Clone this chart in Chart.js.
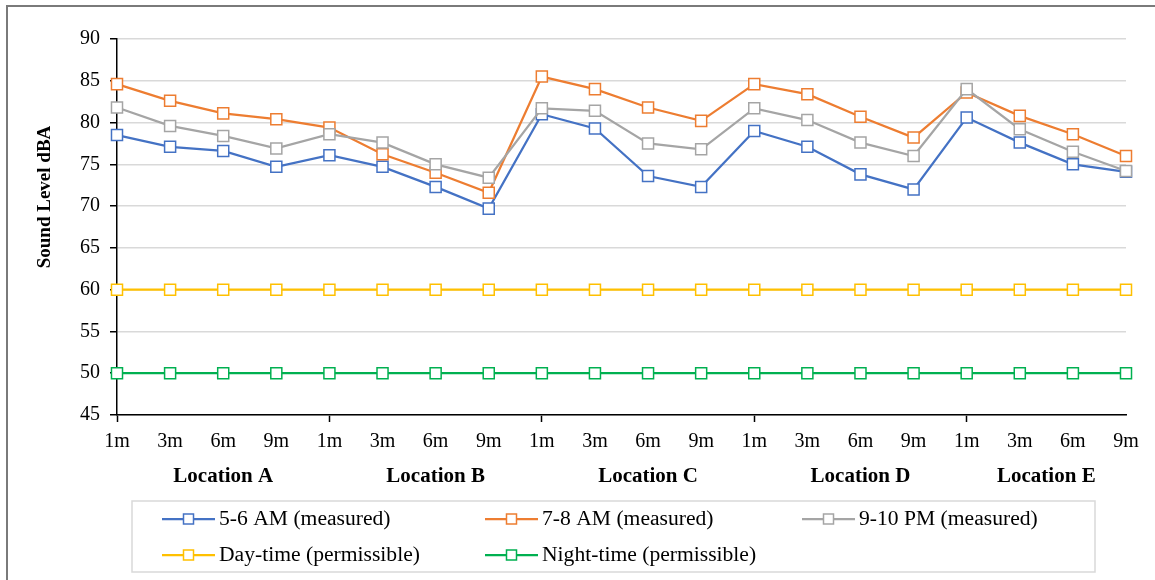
<!DOCTYPE html>
<html>
<head>
<meta charset="utf-8">
<script src="https://cdn.jsdelivr.net/npm/chart.js@4.4.1/dist/chart.umd.min.js"></script>
<style>
  html, body { margin: 0; padding: 0; background: #fff; }
  #wrap { position: relative; width: 1155px; height: 580px; }
</style>
</head>
<body>
<div id="wrap"><canvas id="c" width="1155" height="580"></canvas></div>
<script>
// Distance from the road at each measuring point, repeated per location
const distances = ['1m', '3m', '6m', '9m', '1m', '3m', '6m', '9m', '1m', '3m', '6m', '9m',
                   '1m', '3m', '6m', '9m', '1m', '3m', '6m', '9m'];
const locations = ['Location A', 'Location B', 'Location C', 'Location D', 'Location E'];

// Sound levels (dBA)
const earlyMorning = [78.5, 77.1, 76.6, 74.7, 76.1, 74.7, 72.3, 69.7, 81.0, 79.3,
                      73.6, 72.3, 79.0, 77.1, 73.8, 72.0, 80.6, 77.6, 75.0, 74.1];
const morningPeak  = [84.6, 82.6, 81.1, 80.4, 79.4, 76.2, 74.0, 71.6, 85.5, 84.0,
                      81.8, 80.2, 84.6, 83.4, 80.7, 78.2, 83.6, 80.8, 78.6, 76.0];
const evening      = [81.8, 79.6, 78.4, 76.9, 78.6, 77.6, 75.0, 73.4, 81.7, 81.4,
                      77.5, 76.8, 81.7, 80.3, 77.6, 76.0, 84.0, 79.2, 76.5, 74.2];
const dayLimit     = [60, 60, 60, 60, 60, 60, 60, 60, 60, 60,
                      60, 60, 60, 60, 60, 60, 60, 60, 60, 60];
const nightLimit   = [50, 50, 50, 50, 50, 50, 50, 50, 50, 50,
                      50, 50, 50, 50, 50, 50, 50, 50, 50, 50];

const seriesNames = ['5-6 AM (measured)', '7-8 AM (measured)', '9-10 PM (measured)',
                     'Day-time (permissible)', 'Night-time (permissible)'];
const seriesColors = ['#4472C4', '#ED7D31', '#A5A5A5', '#FFC000', '#00B050'];
const seriesValues = [earlyMorning, morningPeak, evening, dayLimit, nightLimit];

const yTicks = { min: 45, max: 90, step: 5 };
const yTitle = 'Sound Level dBA';

const FONT = '"Liberation Serif", "Times New Roman", serif';
const GROUP = 4;

function drawMarker(ctx, x, y, color) {
  const s = 10;
  ctx.fillStyle = '#fff';
  ctx.fillRect(x - s / 2, y - s / 2, s, s);
  ctx.strokeStyle = color;
  ctx.lineWidth = 1.5;
  ctx.strokeRect(x - s / 2, y - s / 2, s, s);
}

// text drawn slightly wider than the font's natural width
function wideText(ctx, text, x, y, stretch) {
  ctx.save();
  ctx.translate(x, y);
  ctx.scale(stretch, 1);
  ctx.fillText(text, 0, 0);
  ctx.restore();
}

const decorations = {
  id: 'decorations',
  beforeDraw(chart) {
    const ctx = chart.ctx;
    ctx.save();
    ctx.fillStyle = '#fff';
    ctx.fillRect(0, 0, chart.width, chart.height);
    ctx.restore();
  },
  afterDraw(chart) {
    const ctx = chart.ctx;
    const xs = chart.scales.x;
    const area = chart.chartArea;
    ctx.save();

    // frame around the figure (top and left edges)
    ctx.strokeStyle = '#7a7a7a';
    ctx.lineWidth = 2;
    ctx.beginPath();
    ctx.moveTo(7, chart.height);
    ctx.lineTo(7, 6);
    ctx.lineTo(chart.width, 6);
    ctx.stroke();

    // vertical axis title
    ctx.fillStyle = '#000';
    ctx.font = 'bold 19px ' + FONT;
    ctx.textAlign = 'center';
    ctx.textBaseline = 'middle';
    ctx.save();
    ctx.translate(45, 197);
    ctx.rotate(-Math.PI / 2);
    ctx.fillText(yTitle, 0, 0);
    ctx.restore();

    // location labels under each group of distances
    ctx.font = 'bold 20px ' + FONT;
    locations.forEach((name, g) => {
      const left = xs.getPixelForValue(g * GROUP);
      const right = Math.min(xs.getPixelForValue((g + 1) * GROUP), area.right);
      wideText(ctx, name, (left + right) / 2, 477, 1.05);
    });

    // legend
    ctx.strokeStyle = '#d9d9d9';
    ctx.lineWidth = 1.5;
    ctx.strokeRect(132, 501, 963, 71);
    const cols = [162, 485, 802];
    const rows = [519, 555];
    ctx.font = '20px ' + FONT;
    ctx.textAlign = 'left';
    chart.data.datasets.forEach((ds, i) => {
      const x = cols[i % 3];
      const y = rows[Math.floor(i / 3)];
      ctx.strokeStyle = ds.borderColor;
      ctx.lineWidth = 2.25;
      ctx.beginPath();
      ctx.moveTo(x, y);
      ctx.lineTo(x + 53, y);
      ctx.stroke();
      drawMarker(ctx, x + 26.5, y, ds.borderColor);
      ctx.fillStyle = '#000';
      wideText(ctx, ds.label, x + 57, y + 1, 1.08);
    });
    ctx.restore();
  }
};

const datasets = seriesNames.map((name, i) => ({
  label: name,
  data: seriesValues[i],
  borderColor: seriesColors[i],
  backgroundColor: '#fff',
  borderWidth: 2.25,
  pointStyle: 'rect',
  pointRadius: 7.8,
  pointHoverRadius: 7.8,
  pointBorderWidth: 1.5,
  pointBackgroundColor: '#fff',
  pointBorderColor: seriesColors[i],
  tension: 0,
  fill: false,
  order: seriesNames.length - i
}));

new Chart(document.getElementById('c'), {
  type: 'line',
  data: { labels: distances, datasets },
  options: {
    responsive: false,
    animation: false,
    devicePixelRatio: 1,
    layout: { padding: { top: 39, right: 29, bottom: 125, left: 0 } },
    plugins: {
      legend: { display: false },
      tooltip: { enabled: false }
    },
    scales: {
      x: {
        type: 'category',
        offset: false,
        afterFit(scale) { scale.height = 40; },
        grid: {
          display: true,
          drawOnChartArea: false,
          drawTicks: true,
          tickLength: 7,
          tickWidth: 1.5,
          tickColor: c => (c.index % GROUP === 0 && c.index < distances.length - 1) ? '#000' : 'rgba(0,0,0,0)'
        },
        border: { display: true, color: '#000', width: 1.5 },
        ticks: {
          autoSkip: false,
          maxRotation: 0,
          padding: 8,
          color: '#000',
          font: { family: FONT, size: 20 }
        }
      },
      y: {
        min: yTicks.min,
        max: yTicks.max,
        afterFit(scale) { scale.width = 117; },
        grid: {
          color: '#d9d9d9',
          lineWidth: 1.5,
          drawTicks: true,
          tickLength: 7,
          tickColor: '#000',
          tickWidth: 1.5
        },
        border: { display: true, color: '#000', width: 1.5 },
        ticks: {
          stepSize: yTicks.step,
          padding: 10,
          color: '#000',
          font: { family: FONT, size: 20 }
        }
      }
    }
  },
  plugins: [decorations]
});
</script>
</body>
</html>
